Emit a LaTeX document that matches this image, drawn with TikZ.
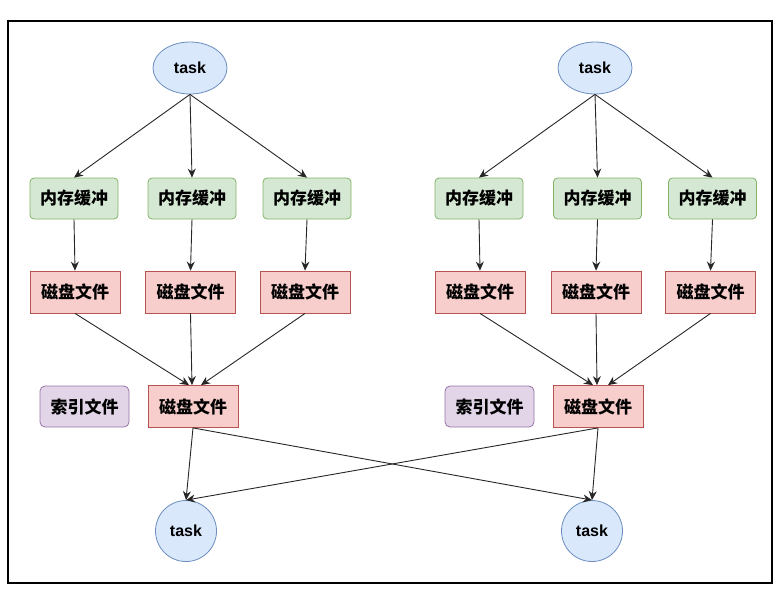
\documentclass[tikz,border=0pt]{standalone}
\usepackage{fontspec}
\setmainfont{Liberation Sans}
\newfontfamily\cjk{Noto Sans CJK SC}
\usetikzlibrary{arrows.meta,shapes.geometric}
\definecolor{gfill}{HTML}{D5E8D4}\definecolor{gline}{HTML}{82B366}
\definecolor{rfill}{HTML}{F8CECC}\definecolor{rline}{HTML}{B85450}
\definecolor{pfill}{HTML}{E1D5E7}\definecolor{pline}{HTML}{9673A6}
\definecolor{bfill}{HTML}{DAE8FC}\definecolor{bline}{HTML}{6C8EBF}
\tikzset{
  membox/.style={draw=gline,fill=gfill,rounded corners=4pt,minimum width=88pt,minimum height=41pt,font=\cjk\bfseries\fontsize{17}{19}\selectfont,line width=0.8pt},
  diskbox/.style={draw=rline,fill=rfill,minimum width=90pt,minimum height=42pt,font=\cjk\bfseries\fontsize{17}{19}\selectfont,line width=0.8pt},
  idxbox/.style={draw=pline,fill=pfill,rounded corners=5pt,minimum width=89pt,minimum height=41pt,font=\cjk\bfseries\fontsize{17}{19}\selectfont,line width=0.8pt},
  taskell/.style={ellipse,draw=bline,fill=bfill,minimum width=74pt,minimum height=52pt,inner sep=0pt,font=\bfseries\fontsize{16}{18}\selectfont,line width=0.8pt},
  taskcirc/.style={circle,draw=bline,fill=bfill,minimum size=61pt,inner sep=0pt,font=\bfseries\fontsize{16}{18}\selectfont,line width=0.8pt},
  conn/.style={-{Stealth[length=9pt,width=8pt]},line width=0.9pt,black!85}
}
\begin{document}
\begin{tikzpicture}[x=1pt,y=-1pt]
\useasboundingbox (0,0) rectangle (783,590);
\draw[line width=1.2pt] (8,21) rectangle (772,583);
% left group
\node[taskell] (lt) at (190,68) {task};
\node[membox] (lm1) at (74,198.5) {内存缓冲};
\node[membox] (lm2) at (192,198.5) {内存缓冲};
\node[membox] (lm3) at (307,198.5) {内存缓冲};
\node[diskbox] (ld1) at (75,292) {磁盘文件};
\node[diskbox] (ld2) at (190.5,292) {磁盘文件};
\node[diskbox] (ld3) at (305,292) {磁盘文件};
\node[idxbox] (li) at (84.5,406.5) {索引文件};
\node[diskbox] (lmg) at (193,406.5) {磁盘文件};
\node[taskcirc] (lb) at (186,531) {task};
% right group
\node[taskell] (rt) at (595,68) {task};
\node[membox] (rm1) at (479,198.5) {内存缓冲};
\node[membox] (rm2) at (597.5,198.5) {内存缓冲};
\node[membox] (rm3) at (712.5,198.5) {内存缓冲};
\node[diskbox] (rd1) at (480,292) {磁盘文件};
\node[diskbox] (rd2) at (596,292) {磁盘文件};
\node[diskbox] (rd3) at (710.5,292) {磁盘文件};
\node[idxbox] (ri) at (489.5,406.5) {索引文件};
\node[diskbox] (rmg) at (598,406.5) {磁盘文件};
\node[taskcirc] (rb) at (592,531) {task};
% arrows left
\draw[conn] (lt.south) -- (lm1.north);
\draw[conn] (lt.south) -- (lm2.north);
\draw[conn] (lt.south) -- (lm3.north);
\draw[conn] (lm1.south) -- (ld1.north);
\draw[conn] (lm2.south) -- (ld2.north);
\draw[conn] (lm3.south) -- (ld3.north);
\draw[conn] (ld1.south) -- ([xshift=-4pt]lmg.north);
\draw[conn] (ld2.south) -- ([xshift=-1pt]lmg.north);
\draw[conn] (ld3.south) -- ([xshift=8pt]lmg.north);
% arrows right
\draw[conn] (rt.south) -- (rm1.north);
\draw[conn] (rt.south) -- (rm2.north);
\draw[conn] (rt.south) -- (rm3.north);
\draw[conn] (rm1.south) -- (rd1.north);
\draw[conn] (rm2.south) -- (rd2.north);
\draw[conn] (rm3.south) -- (rd3.north);
\draw[conn] (rd1.south) -- ([xshift=-5pt]rmg.north);
\draw[conn] (rd2.south) -- ([xshift=-1pt]rmg.north);
\draw[conn] (rd3.south) -- ([xshift=10pt]rmg.north);
% bottom
\draw[conn] (lmg.south) -- (lb.north);
\draw[conn] (lmg.south) -- (rb.north);
\draw[conn] (rmg.south) -- (rb.north);
\draw[conn] (rmg.south) -- (lb.north);
\end{tikzpicture}
\end{document}
